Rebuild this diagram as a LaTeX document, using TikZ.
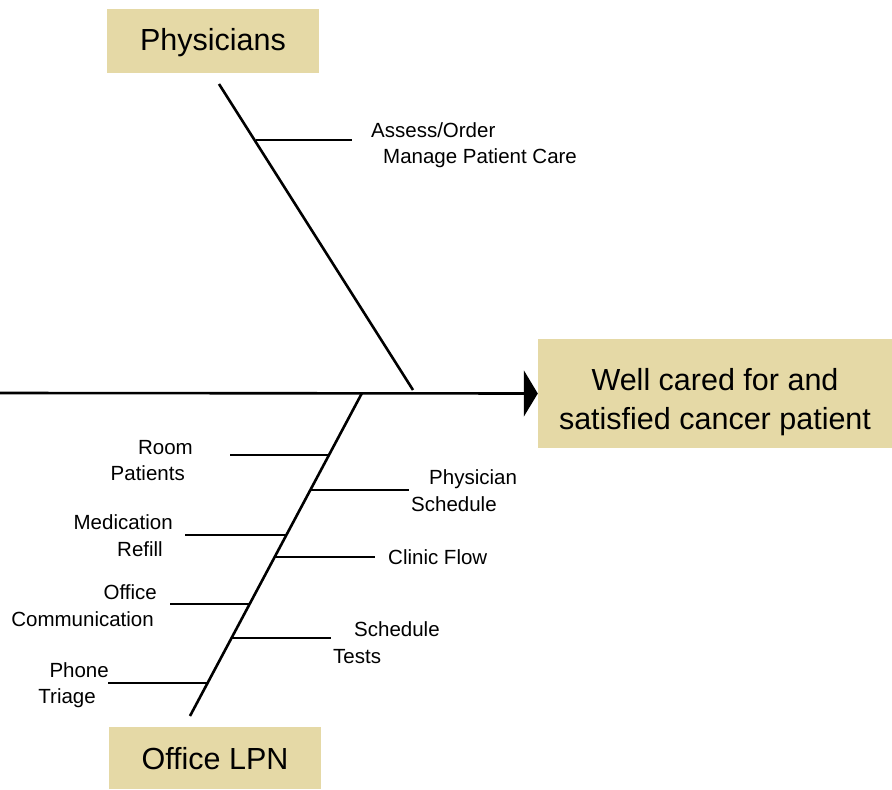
\documentclass[tikz,border=0pt]{standalone}
\usepackage{fontspec}
\setmainfont{Liberation Sans}
\usetikzlibrary{arrows.meta}
\definecolor{boxfill}{RGB}{229,217,166}
\tikzset{
  bone/.style={line width=2.6pt},
  twig/.style={line width=2.4pt},
  catbox/.style={fill=boxfill, draw=none, inner sep=0pt, font=\fontsize{30.5}{39}\selectfont},
  lbl/.style={inner sep=0pt, font=\fontsize{20.5}{27}\selectfont},
}
\begin{document}
\begin{tikzpicture}[x=1pt,y=-1pt]
\useasboundingbox (0,0) rectangle (892,790);
% category boxes
\node[catbox, minimum width=212pt, minimum height=64pt] (phys) at (213,41) {\raisebox{-2pt}[\height][\depth]{Physicians}};
\node[catbox, minimum width=212pt, minimum height=62pt] (lpn) at (215,758) {\raisebox{-1pt}[\height][\depth]{Office LPN}};
\node[catbox, minimum width=354pt, minimum height=109pt] (goal) at (715,393.5) {\raisebox{-9pt}[\height][\depth]{\begin{tabular}{@{}c@{}}Well cared for and\\satisfied cancer patient\end{tabular}}};
% spine
\coordinate (tail) at (0,393);
\draw[bone, -{Triangle[length=14pt,width=46pt]}] (tail) -- (goal.west);
% upper bone
\coordinate (ut) at (219,84);
\coordinate (ub) at (413,390);
\draw[bone] (ut) -- (ub);
\coordinate (u1) at (256,140);
\coordinate (u1e) at (352,140);
\draw[twig] (u1) -- (u1e);
\node[lbl, anchor=base west] (aso) at (371,137) {Assess/Order};
\node[lbl, anchor=base west] (mpc) at (383,163) {Manage Patient Care};
% lower bone
\coordinate (lt) at (362,393);
\coordinate (lb) at (190,716);
\draw[bone] (lt) -- (lb);
% left twigs
\coordinate (a1) at (329,455); \coordinate (a1e) at (230,455);
\coordinate (a2) at (286,535); \coordinate (a2e) at (185,535);
\coordinate (a3) at (249,604); \coordinate (a3e) at (170,604);
\coordinate (a4) at (208,683); \coordinate (a4e) at (108,683);
\draw[twig] (a1) -- (a1e);
\draw[twig] (a2) -- (a2e);
\draw[twig] (a3) -- (a3e);
\draw[twig] (a4) -- (a4e);
% right twigs
\coordinate (b1) at (310,490); \coordinate (b1e) at (409,490);
\coordinate (b2) at (275,557); \coordinate (b2e) at (375,557);
\coordinate (b3) at (232,638); \coordinate (b3e) at (331,638);
\draw[twig] (b1) -- (b1e);
\draw[twig] (b2) -- (b2e);
\draw[twig] (b3) -- (b3e);
% left labels
\node[lbl, anchor=base east] (l1a) at (193,454) {Room};
\node[lbl, anchor=base east] (l1b) at (185,480) {Patients};
\node[lbl, anchor=base east] (l2a) at (173,529) {Medication};
\node[lbl, anchor=base east] (l2b) at (163,556) {Refill};
\node[lbl, anchor=base east] (l3a) at (157,599) {Office};
\node[lbl, anchor=base east] (l3b) at (154,626) {Communication};
\node[lbl, anchor=base east] (l4a) at (109,677) {Phone};
\node[lbl, anchor=base east] (l4b) at (96,703) {Triage};
% right labels
\node[lbl, anchor=base west] (r1a) at (429,484) {Physician};
\node[lbl, anchor=base west] (r1b) at (411,511) {Schedule};
\node[lbl, anchor=base west] (r2) at (388,564) {Clinic Flow};
\node[lbl, anchor=base west] (r3a) at (354,636) {Schedule};
\node[lbl, anchor=base west] (r3b) at (333,663) {Tests};
\end{tikzpicture}
\end{document}
